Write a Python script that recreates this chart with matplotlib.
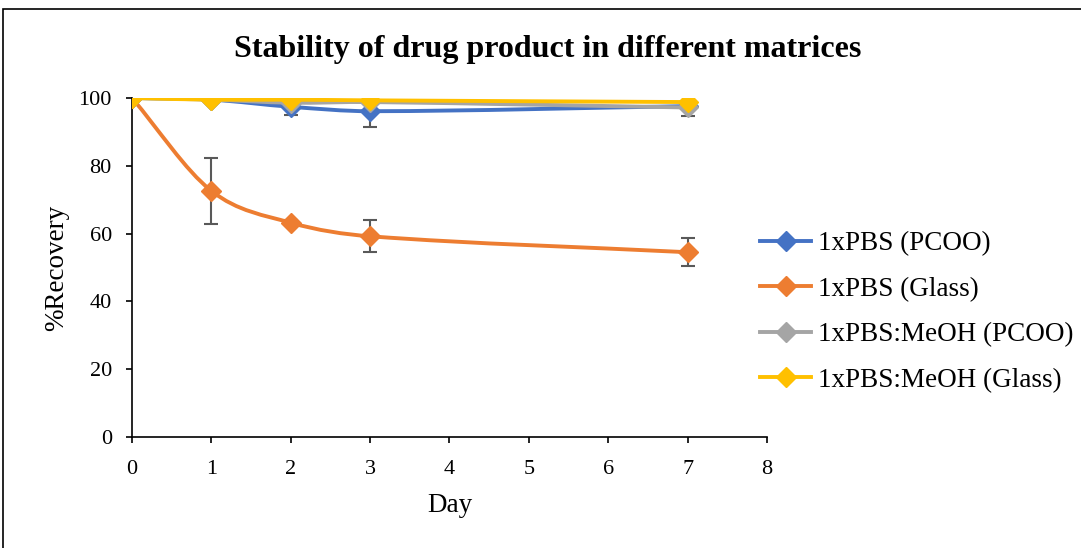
import numpy as np
import matplotlib
matplotlib.use("Agg")
import matplotlib.pyplot as plt
from matplotlib.path import Path
from matplotlib.patches import PathPatch, Rectangle
from matplotlib.lines import Line2D

plt.rcParams['font.family'] = ['Liberation Serif', 'DejaVu Serif']

days = [0, 1, 2, 3, 7]
labels = ['1xPBS (PCOO)', '1xPBS (Glass)', '1xPBS:MeOH (PCOO)', '1xPBS:MeOH (Glass)']
colors = ['#4472C4', '#ED7D31', '#A5A5A5', '#FFC000']

pbs_pcoo = [100, 99.5, 97.4, 96.1, 97.6]
pbs_glass = [100, 72.6, 63.2, 59.2, 54.5]
meoh_pcoo = [100, 99.5, 98.6, 98.8, 97.2]
meoh_glass = [100, 99.5, 99.5, 99.3, 98.8]

pbs_pcoo_err = [0, 0, 2.4, 4.8, 3.0]
pbs_glass_err = [0, 9.8, 0.8, 4.7, 4.1]

series = [pbs_pcoo, pbs_glass, meoh_pcoo, meoh_glass]
errors = [pbs_pcoo_err, pbs_glass_err, None, None]


def smooth_path(x, y):
    # cubic bezier through every point (smoothed line), tangents scaled by x spacing
    x = np.asarray(x, float)
    y = np.asarray(y, float)
    n = len(x)
    slope = np.zeros(n)
    for i in range(n):
        a = max(i - 1, 0)
        b = min(i + 1, n - 1)
        slope[i] = (y[b] - y[a]) / (x[b] - x[a])
    verts = [(x[0], y[0])]
    codes = [Path.MOVETO]
    for i in range(n - 1):
        h = (x[i + 1] - x[i]) / 3
        verts += [(x[i] + h, y[i] + slope[i] * h),
                  (x[i + 1] - h, y[i + 1] - slope[i + 1] * h),
                  (x[i + 1], y[i + 1])]
        codes += [Path.CURVE4] * 3
    return Path(verts, codes)


fig = plt.figure(figsize=(10.81, 5.48), dpi=100)
ax = fig.add_axes([0.1221, 0.2026, 0.5874, 0.6186])

for i, (vals, err, col) in enumerate(zip(series, errors, colors)):
    if err is not None:
        ax.errorbar(days, vals, yerr=err, fmt='none', ecolor='#595959',
                    elinewidth=1.5, capsize=5, capthick=1.5, zorder=2 + i)
    ax.add_patch(PathPatch(smooth_path(days, vals), facecolor='none',
                           edgecolor=col, lw=2.8, zorder=3 + i,
                           capstyle='round', joinstyle='round'))
    ax.plot(days, vals, ls='none', marker='D', ms=10.5, color=col, zorder=3 + i)

ax.set_xlim(0, 8)
ax.set_ylim(0, 100)
ax.set_xticks(range(0, 9))
ax.set_yticks(range(0, 101, 20))
ax.tick_params(labelsize=16, length=4.5, width=1.2, direction='out', pad=10)
ax.tick_params(axis='x', pad=12)
ax.spines['top'].set_visible(False)
ax.spines['right'].set_visible(False)
for s in ('left', 'bottom'):
    ax.spines[s].set_color('black')
    ax.spines[s].set_linewidth(1.2)
ax.set_xlabel('Day', fontsize=19.5, labelpad=10)
ax.set_ylabel('%Recovery', fontsize=19.5, labelpad=7)

handles = [Line2D([], [], color=c, lw=2.8, marker='D', ms=10.5) for c in colors]
fig.legend(handles, labels, loc='center left', bbox_to_anchor=(760 / 1081, 1 - 312 / 548),
           frameon=False, fontsize=19.5, handlelength=1.9, handletextpad=0.25,
           labelspacing=0.76, borderpad=0, borderaxespad=0)

fig.text(548 / 1081, 1 - 49 / 548, 'Stability of drug product in different matrices',
         ha='center', va='center', fontsize=23, fontweight='bold')

fig.patches.append(Rectangle((3 / 1081, -0.1), 1.1, 1.1 - 9 / 548,
                             transform=fig.transFigure, fill=False,
                             edgecolor='black', lw=1.2))

fig.savefig('out.png', dpi=100)
